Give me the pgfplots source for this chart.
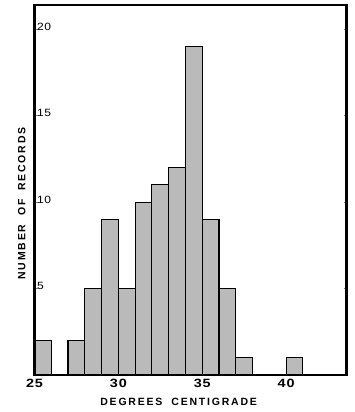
\documentclass[border=0pt]{standalone}
\usepackage{fontspec}
\setmainfont{Liberation Sans}
\newfontfamily\spaced[LetterSpace=17]{Liberation Sans Bold}
\newfontfamily\tickfont[FakeStretch=1.2,LetterSpace=8]{Liberation Sans Bold}
\newfontfamily\ytickfont[FakeStretch=1.15,LetterSpace=5]{Liberation Sans}
\usepackage{pgfplots}
\pgfplotsset{compat=1.18}
\begin{document}
\begin{tikzpicture}
\begin{axis}[
  scale only axis, width=312pt, height=370pt,
  xmin=25, xmax=43.6, ymin=0, ymax=21.4,
  axis line style={line width=2.3pt},
  xtick={25,30,35,40}, ytick={5,10,15,20},
  xtick style={draw=none},
  ytick style={line width=0.8pt},
  tick align=inside, major tick length=3pt,
  /pgf/number format/assume math mode=true,
  xticklabel style={font=\tickfont\fontsize{12}{14}\selectfont, yshift=-1pt},
  yticklabel style={font=\ytickfont\fontsize{10.5}{12}\selectfont, anchor=west, yshift=2.5pt, xshift=-1pt},
  xlabel={\spaced DEGREES\hspace{9pt}CENTIGRADE},
  ylabel={\spaced NUMBER\hspace{4pt} OF\hspace{4pt} RECORDS},
  xlabel style={font=\fontsize{10.5}{12}\selectfont, at={(axis description cs:0.462,0)}, anchor=center, yshift=-26.7pt},
  ylabel style={font=\fontsize{10.5}{12}\selectfont, at={(axis description cs:-0.041,0.4635)}, anchor=center},
  axis on top,
]
\addplot[ybar interval, fill=black!27, draw=black, line width=1.1pt] coordinates {
(25,2) (26,0) (27,2) (28,5) (29,9) (30,5) (31,10) (32,11) (33,12) (34,19) (35,9) (36,5) (37,1) (38,0) (39,0) (40,1) (41,0)
};
\end{axis}
\path[use as bounding box] (-34.5pt,-37pt) rectangle (319.5pt,375pt);
\end{tikzpicture}
\end{document}
